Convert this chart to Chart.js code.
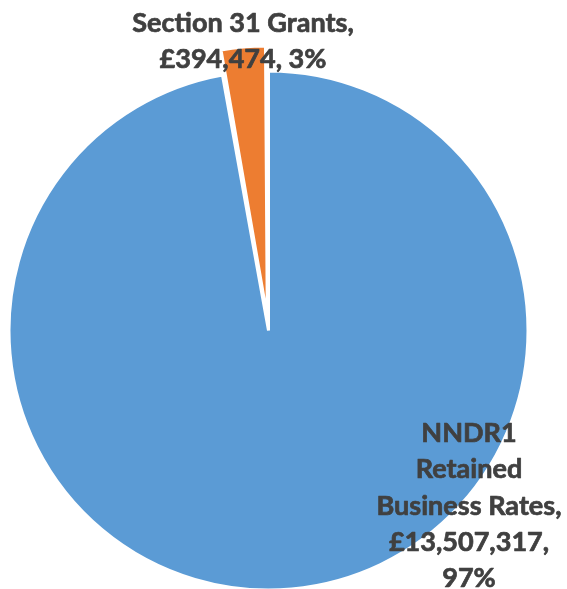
<!DOCTYPE html>
<html>
<head>
<meta charset="utf-8">
<script src="https://cdn.jsdelivr.net/npm/chart.js@4.4.1/dist/chart.umd.min.js"></script>
<style>
  html, body { margin: 0; padding: 0; background: #fff; }
  #wrap { width: 567px; height: 589px; }
</style>
</head>
<body>
<div id="wrap"><canvas id="pie" width="567" height="589"></canvas></div>
<script>
// income sources
const categories = ['NNDR1 Retained Business Rates', 'Section 31 Grants'];
const amounts = [13507317, 394474];
const colours = ['#5B9BD5', '#ED7D31'];
const sliceOffsets = [0, 55];

// how each category name breaks over lines in its label
const nameLines = [['NNDR1', 'Retained', 'Business Rates'], ['Section 31 Grants']];

const total = amounts.reduce((a, b) => a + b, 0);
const money = v => '£' + v.toLocaleString('en-GB');
const pct = v => Math.round(v / total * 100) + '%';

function labelLines(i) {
  const names = nameLines[i].slice();
  names[names.length - 1] += ',';
  if (i === 0) return names.concat([money(amounts[i]) + ',', pct(amounts[i])]);
  return names.concat([money(amounts[i]) + ', ' + pct(amounts[i])]);
}

// data labels drawn onto the canvas after the slices
const sliceLabels = {
  id: 'sliceLabels',
  afterDatasetsDraw(chart, args, opts) {
    const ctx = chart.ctx;
    ctx.save();
    ctx.font = 'bold 27px Lato';
    ctx.fillStyle = '#404040';
    ctx.strokeStyle = '#404040';
    ctx.lineWidth = 0.7;
    ctx.lineJoin = 'round';
    ctx.textAlign = 'center';
    ctx.textBaseline = 'alphabetic';
    const sx = opts.refWidth / ctx.measureText('Business Rates,').width;
    opts.anchors.forEach((p, i) => {
      labelLines(i).forEach((line, k) => {
        ctx.save();
        ctx.translate(p.x, p.y + k * opts.lineHeight);
        ctx.scale(sx, 1);
        ctx.fillText(line, 0, 0);
        ctx.strokeText(line, 0, 0);
        ctx.restore();
      });
    });
    ctx.restore();
  }
};

new Chart(document.getElementById('pie').getContext('2d'), {
  type: 'pie',
  data: {
    labels: categories,
    datasets: [{
      data: amounts,
      backgroundColor: colours,
      borderColor: '#ffffff',
      borderWidth: 3,
      offset: sliceOffsets
    }]
  },
  options: {
    responsive: false,
    animation: false,
    radius: 259.5,
    layout: { padding: { left: 0, right: 30, top: 72, bottom: 0 } },
    plugins: {
      legend: { display: false },
      tooltip: { enabled: false },
      sliceLabels: {
        anchors: [{ x: 469, y: 442 }, { x: 243, y: 32 }],
        lineHeight: 36.3,
        refWidth: 185
      }
    }
  },
  plugins: [sliceLabels]
});
</script>
</body>
</html>
